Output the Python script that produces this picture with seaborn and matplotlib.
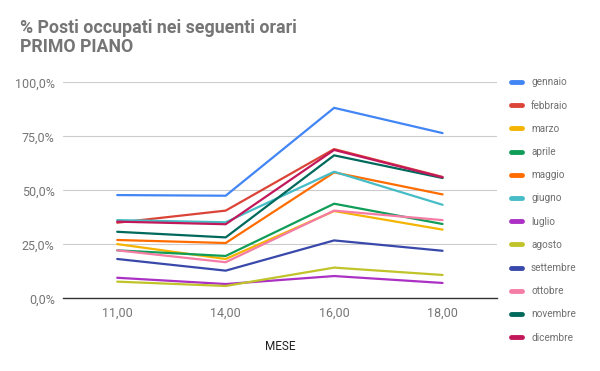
import matplotlib
matplotlib.use("Agg")
import matplotlib.pyplot as plt
import seaborn as sns
import pandas as pd
from matplotlib.lines import Line2D
from matplotlib.ticker import FuncFormatter

orari = ["11,00", "14,00", "16,00", "18,00"]
mesi = ["gennaio", "febbraio", "marzo", "aprile", "maggio", "giugno",
        "luglio", "agosto", "settembre", "ottobre", "novembre", "dicembre"]
gennaio = [47.8, 47.5, 88.2, 76.5]
febbraio = [35.0, 40.6, 69.1, 56.2]
marzo = [25.1, 18.2, 40.4, 31.8]
aprile = [22.2, 19.6, 43.8, 34.4]
maggio = [27.0, 25.6, 58.3, 48.1]
giugno = [36.2, 35.2, 58.6, 43.3]
luglio = [9.5, 6.6, 10.3, 7.1]
agosto = [7.7, 5.7, 14.2, 10.8]
settembre = [18.2, 12.8, 26.8, 22.0]
ottobre = [22.2, 16.7, 40.6, 36.2]
novembre = [30.8, 28.2, 66.2, 55.7]
dicembre = [35.5, 34.3, 68.7, 56.0]
serie = [gennaio, febbraio, marzo, aprile, maggio, giugno,
         luglio, agosto, settembre, ottobre, novembre, dicembre]
colori = ["#4285F4", "#DB4437", "#F4B400", "#0F9D58", "#FF6D01", "#46BDC6",
          "#AB30C4", "#C0C42A", "#3949AB", "#F57CA5", "#00695C", "#C2185B"]

rows = []
for m, vals in zip(mesi, serie):
    for o, v in zip(orari, vals):
        rows.append({"orario": o, "mese": m, "valore": v / 100.0})
df = pd.DataFrame(rows)

sns.set_theme(style="white")
plt.rcParams["font.family"] = ["Roboto", "DejaVu Sans"]

fig = plt.figure(figsize=(6, 3.71), dpi=100)
ax = fig.add_axes([0.105, 0.196, 0.723, 0.582])

palette = dict(zip(mesi, colori))
sns.lineplot(data=df, x="orario", y="valore", hue="mese", palette=palette,
             hue_order=mesi, linewidth=1.6, ax=ax, legend=False, sort=False)

ax.set_xlim(-0.5, 3.5)
ax.set_ylim(0, 1.0)
ax.set_yticks([0, 0.25, 0.5, 0.75, 1.0])
ax.yaxis.set_major_formatter(FuncFormatter(lambda v, p: f"{v*100:.1f}%".replace(".", ",")))
ax.grid(axis="y", color="#cccccc", linewidth=0.8)
ax.grid(axis="x", visible=False)
for s in ["top", "right", "left"]:
    ax.spines[s].set_visible(False)
ax.spines["bottom"].set_color("#333333")
ax.spines["bottom"].set_linewidth(1.0)
ax.tick_params(axis="both", length=0, labelsize=9, colors="#757575", pad=6)
ax.set_xlabel("MESE", fontsize=8.5, color="#222222", labelpad=15)
ax.set_ylabel("")

handles = [Line2D([0], [0], color=c, linewidth=3.5) for c in colori]
leg = fig.legend(handles, mesi, loc="upper left", bbox_to_anchor=(0.845, 0.802),
                 frameon=False, fontsize=7.2, handlelength=1.1, handletextpad=0.9,
                 labelspacing=1.32, borderaxespad=0)
for t in leg.get_texts():
    t.set_color("#6f6f6f")

fig.text(0.033, 0.95, "% Posti occupati nei seguenti orari\nPRIMO PIANO",
         fontsize=12.8, fontweight="bold", color="#757575", va="top", ha="left",
         linespacing=1.1)

fig.savefig("out.png", dpi=100)
